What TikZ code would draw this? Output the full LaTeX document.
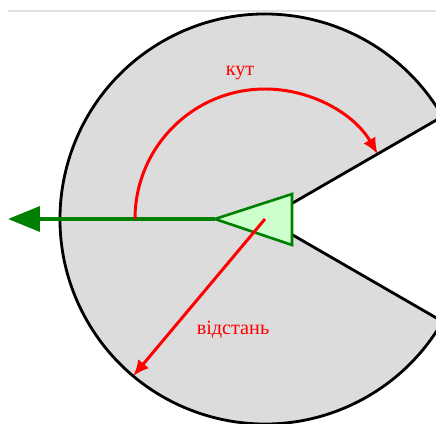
\documentclass[tikz,border=0pt]{standalone}
\usepackage{fontspec}
\setmainfont{Liberation Serif}
\usetikzlibrary{arrows.meta}
\definecolor{diskgray}{RGB}{220,220,220}
\definecolor{turtlegreen}{RGB}{0,128,0}
\definecolor{turtlefill}{RGB}{204,255,204}
\begin{document}
\begin{tikzpicture}[every node/.style={font=\fontsize{11.5}{13}\selectfont, text=red}, >={Latex[length=3.2mm, width=2.8mm]}]
	\useasboundingbox (-5.3,-4.08) rectangle (3.42,4.38);
	\clip (-5.3,-4.08) rectangle (3.42,4.38);
	\draw[black!12, line width=0.6pt] (-5.14,4.16) -- (3.42,4.16);
	\coordinate (centre) at (0,0);
	\coordinate (nose) at (-1,0);
	\coordinate (aim) at (-5.14,0);
	\coordinate (rim) at (230:4.1);
	\filldraw[fill=diskgray, draw=black, line width=1.6pt] (centre) -- (30:4.1) arc[start angle=30, end angle=330, radius=4.1] -- cycle;
	\draw[turtlegreen, line width=2pt, -{Triangle[length=6.4mm, width=5mm]}] (nose) -- (aim);
	\filldraw[fill=turtlefill, draw=turtlegreen, line width=1.5pt] (nose) -- (0.54,0.5) -- (0.54,-0.52) -- cycle;
	\draw[red, line width=1.7pt, ->] (180:2.6) arc[start angle=180, end angle=30, radius=2.6];
	\draw[red, line width=1.7pt, ->] (centre) -- (rim);
	\node (angle label) at (-0.5,2.92) {кут};
	\node (distance label) at (-0.64,-2.22) {відстань};
\end{tikzpicture}
\end{document}
